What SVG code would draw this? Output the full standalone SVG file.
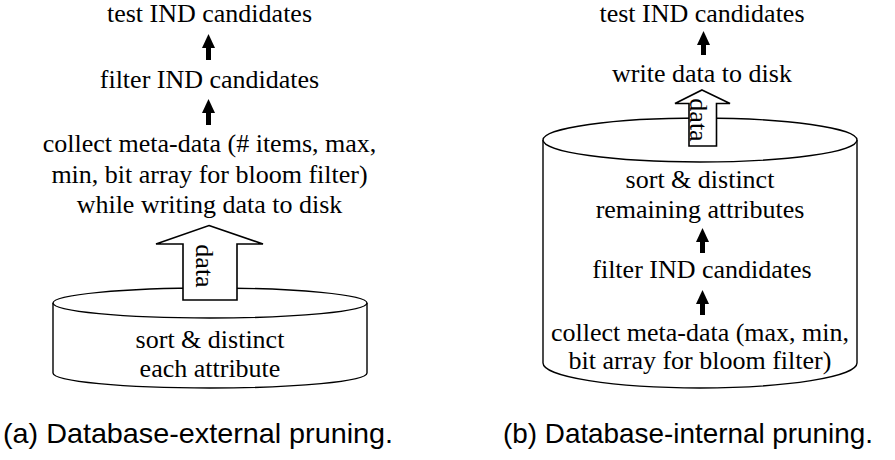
<svg xmlns="http://www.w3.org/2000/svg" width="895" height="460" viewBox="0 0 895 460">
  <style>
    .lbl { font-family: "Liberation Serif", "Times New Roman", serif; font-size: 26px; fill: #000; text-anchor: middle; }
    .cap { font-family: "Liberation Sans", Arial, sans-serif; font-size: 28px; fill: #000; }
    .drum { fill: #fff; stroke: #000; stroke-width: 1.4; }
    .bigarrow { fill: #fff; stroke: #000; stroke-width: 1.6; stroke-linejoin: miter; }
    .flow { stroke: #000; stroke-width: 5; fill: none; marker-end: url(#head); }
  </style>
  <defs>
    <marker id="head" viewBox="0 0 14 13" refX="0" refY="6.5" markerWidth="14" markerHeight="13" markerUnits="userSpaceOnUse" orient="auto">
      <path d="M0,0 L14,6.5 L0,13 z" fill="#000"/>
    </marker>
  </defs>
  <rect width="895" height="460" fill="#fff"/>

  <!-- (a) external pruning -->
  <g id="a-disk">
    <path class="drum" d="M53,303 L53,373 A157,15 0 0 0 367,373 L367,303"/>
    <ellipse class="drum" cx="210" cy="303" rx="157" ry="15"/>
    <text class="lbl" x="210" y="348">sort &amp; distinct</text>
    <text class="lbl" x="210" y="377">each attribute</text>
  </g>
  <g id="a-data">
    <path class="bigarrow" d="M209,225.5 L263,244 L237,244 L237,300 L183,300 L183,244 L156,244 Z"/>
    <text class="lbl" transform="translate(196,266) rotate(90)">data</text>
  </g>
  <g id="a-collect">
    <text class="lbl" x="209.5" y="152">collect meta-data (# items, max,</text>
    <text class="lbl" x="209.5" y="183">min, bit array for bloom filter)</text>
    <text class="lbl" x="209.5" y="213">while writing data to disk</text>
  </g>
  <g id="a-filter">
    <text class="lbl" x="209.5" y="88">filter IND candidates</text>
  </g>
  <g id="a-test">
    <text class="lbl" x="209.5" y="22">test IND candidates</text>
  </g>

  <!-- (b) internal pruning -->
  <g id="b-disk">
    <path class="drum" d="M543,140 L543,363 A157,25 0 0 0 857,363 L857,140"/>
    <ellipse class="drum" cx="700" cy="140" rx="157" ry="22"/>
  </g>
  <g id="b-sort">
    <text class="lbl" x="700" y="188">sort &amp; distinct</text>
    <text class="lbl" x="700" y="218">remaining attributes</text>
  </g>
  <g id="b-filter">
    <text class="lbl" x="702" y="278">filter IND candidates</text>
  </g>
  <g id="b-collect">
    <text class="lbl" x="700" y="341">collect meta-data (max, min,</text>
    <text class="lbl" x="700" y="369">bit array for bloom filter)</text>
  </g>
  <g id="b-data">
    <path class="bigarrow" d="M702,90 L730,103.5 L716.5,103.5 L716.5,146 L689,146 L689,103.5 L675,103.5 Z"/>
    <text class="lbl" transform="translate(690,120) rotate(90)">data</text>
  </g>
  <g id="b-write">
    <text class="lbl" x="702" y="82">write data to disk</text>
  </g>
  <g id="b-test">
    <text class="lbl" x="702" y="22">test IND candidates</text>
  </g>

  <!-- flow arrows between steps -->
  <g id="connectors">
    <line class="flow" x1="208.5" y1="60" x2="208.5" y2="48"/>
    <line class="flow" x1="208.5" y1="125" x2="208.5" y2="113"/>
    <line class="flow" x1="703.5" y1="55" x2="703.5" y2="45"/>
    <line class="flow" x1="702.5" y1="253" x2="702.5" y2="242"/>
    <line class="flow" x1="702.5" y1="315" x2="702.5" y2="304"/>
  </g>

  <text class="cap" x="3" y="443" textLength="390" lengthAdjust="spacingAndGlyphs">(a) Database-external pruning.</text>
  <text class="cap" x="503" y="443" textLength="370" lengthAdjust="spacingAndGlyphs">(b) Database-internal pruning.</text>
</svg>
